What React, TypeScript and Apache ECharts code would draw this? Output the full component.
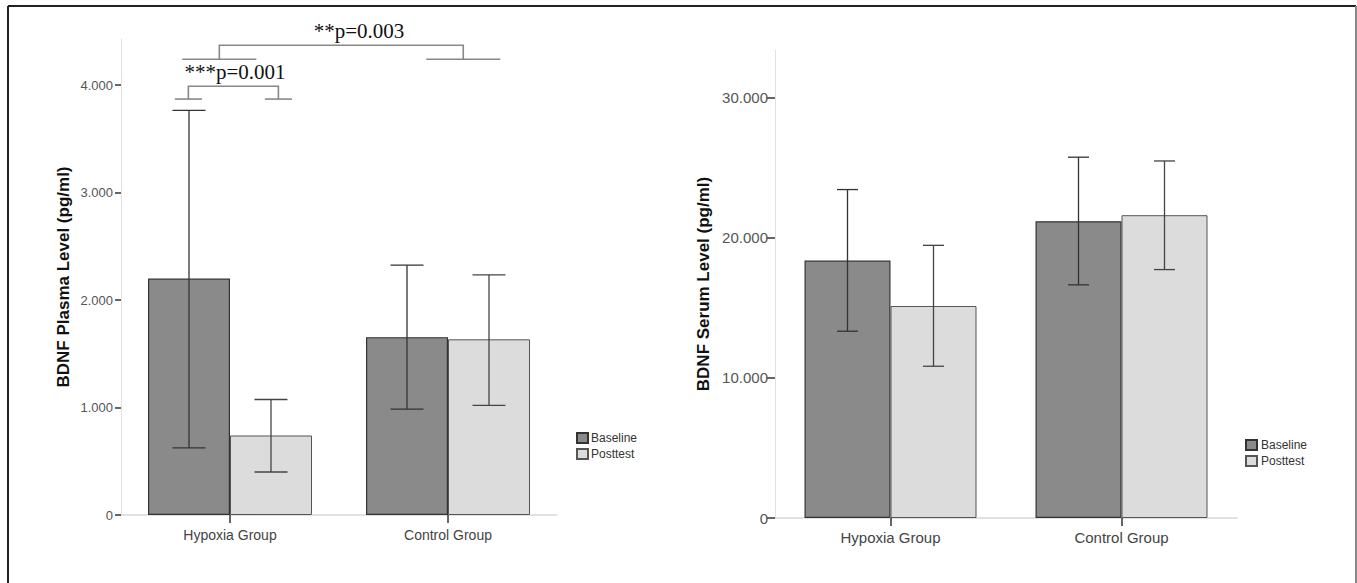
import React, { useEffect, useRef } from "react";
import * as echarts from "echarts";

// ---------- data ----------
const categories = ["Hypoxia Group", "Control Group"];
const seriesNames = ["Baseline", "Posttest"];

// Left panel: BDNF plasma (pg/ml)
const plasmaBaseline = [2200, 1655];
const plasmaPosttest = [740, 1635];
const plasmaBaselineErr = [[625, 3765], [985, 2325]];
const plasmaPosttestErr = [[400, 1075], [1020, 2235]];
const plasmaTicks = [0, 1000, 2000, 3000, 4000];

// Right panel: BDNF serum (pg/ml)
const serumBaseline = [18370, 21180];
const serumPosttest = [15130, 21610];
const serumBaselineErr = [[13330, 23440], [16640, 25750]];
const serumPosttestErr = [[10830, 19460], [17730, 25480]];
const serumTicks = [0, 10000, 20000, 30000];

// Significance brackets (left panel): [x0, x1] in category units, line value, cap value, cap half-width (category units)
const bracketLabels = ["***p=0.001", "**p=0.003"];
const bracketX0 = [-0.191, -0.049];
const bracketX1 = [0.222, 1.07];
const bracketLine = [3990, 4372];
const bracketCap = [3871, 4242];
const bracketCapHalf = [0.062, 0.17];
const bracketTextX = [0.023, 0.592];
const bracketTextY = [4123, 4507];

const fmt = (v: number) => (v === 0 ? "0" : (v / 1000).toFixed(3));

export default function App() {
  const ref = useRef<HTMLDivElement>(null);
  useEffect(() => {
    if (!ref.current) return;
    const chart = echarts.init(ref.current, null, { renderer: "svg" });

    const errSeries = (
      name: string,
      err: number[][],
      axis: number,
      offset: number,
      capW: number,
      color: string
    ) => ({
      type: "custom",
      name: name + " err",
      xAxisIndex: axis,
      yAxisIndex: axis,
      z: 5,
      silent: true,
      data: err.map((e, i) => [i, e[0], e[1]]),
      encode: { x: 0, y: [1, 2] },
      renderItem: (params: any, api: any) => {
        const lo = api.coord([api.value(0), api.value(1)]);
        const hi = api.coord([api.value(0), api.value(2)]);
        const x = lo[0] + offset;
        const st = { stroke: color, lineWidth: 1.3 };
        return {
          type: "group",
          children: [
            { type: "line", shape: { x1: x, y1: lo[1], x2: x, y2: hi[1] }, style: st },
            { type: "line", shape: { x1: x - capW / 2, y1: lo[1], x2: x + capW / 2, y2: lo[1] }, style: st },
            { type: "line", shape: { x1: x - capW / 2, y1: hi[1], x2: x + capW / 2, y2: hi[1] }, style: st },
          ],
        };
      },
    });

    const barStyle = (i: number) =>
      i === 0
        ? { color: "#8a8a8a", borderColor: "#333", borderWidth: 1.2 }
        : { color: "#dcdcdc", borderColor: "#555", borderWidth: 1 };

    const yAxisCommon = (fontSize: number, margin: number, tickLen: number) => ({
      type: "value",
      min: 0,
      splitLine: { show: false },
      axisLine: { show: true, lineStyle: { color: "#e2e2e2", width: 1 } },
      axisTick: { show: true, length: tickLen, lineStyle: { color: "#333", width: 1.5 } },
      axisLabel: {
        color: "#555",
        fontSize,
        fontFamily: "Liberation Sans, Arial, sans-serif",
        margin,
        formatter: fmt,
      },
      nameLocation: "middle",
      nameTextStyle: {
        fontSize: 17,
        fontWeight: "bold",
        color: "#111",
        fontFamily: "Liberation Sans, Arial, sans-serif",
      },
    });

    const xAxisCommon = (fontSize: number, margin: number) => ({
      type: "category",
      data: categories,
      axisLine: { show: true, lineStyle: { color: "#d8d8d8", width: 1.5 } },
      axisTick: { show: true, alignWithLabel: true, length: 8, lineStyle: { color: "#333", width: 1.5 } },
      axisLabel: {
        color: "#444",
        fontSize,
        margin,
        fontFamily: "Liberation Sans, Arial, sans-serif",
      },
    });

    const option: any = {
      animation: false,
      backgroundColor: "#fff",
      grid: [
        { left: 121, width: 436, top: 39, height: 476 },
        { left: 775, width: 462, top: 50, height: 468 },
      ],
      xAxis: [
        { ...xAxisCommon(14, 13), gridIndex: 0 },
        { ...xAxisCommon(15, 12), gridIndex: 1 },
      ],
      yAxis: [
        {
          ...yAxisCommon(13, 8, 6),
          gridIndex: 0,
          max: 4430,
          axisTick: { show: true, length: 6, lineStyle: { color: "#333", width: 1.5 }, customValues: plasmaTicks },
          axisLabel: { ...yAxisCommon(13, 8, 6).axisLabel, customValues: plasmaTicks },
          name: "BDNF Plasma Level (pg/ml)",
          nameGap: 49,
        },
        {
          ...yAxisCommon(15, 7, 8),
          gridIndex: 1,
          max: 33400,
          axisTick: { show: true, length: 8, lineStyle: { color: "#333", width: 1.5 }, customValues: serumTicks },
          axisLabel: { ...yAxisCommon(15, 7, 8).axisLabel, customValues: serumTicks },
          name: "BDNF Serum Level (pg/ml)",
          nameGap: 63,
        },
      ],
      legend: [
        {
          data: seriesNames,
          orient: "vertical",
          left: 571,
          top: 426,
          icon: "rect",
          itemWidth: 11,
          itemHeight: 10,
          itemGap: 2,
          selectedMode: false,
          textStyle: { fontSize: 12, color: "#333", lineHeight: 14, padding: [0, 0, 0, -2], fontFamily: "Liberation Sans, Arial, sans-serif" },
        },
        {
          data: seriesNames,
          orient: "vertical",
          left: 1240,
          top: 433,
          icon: "rect",
          itemWidth: 11,
          itemHeight: 10,
          itemGap: 2,
          selectedMode: false,
          textStyle: { fontSize: 12, color: "#333", lineHeight: 14, padding: [0, 0, 0, -1], fontFamily: "Liberation Sans, Arial, sans-serif" },
        },
      ],
      series: [
        { type: "bar", name: seriesNames[0], xAxisIndex: 0, yAxisIndex: 0, data: plasmaBaseline, barWidth: 82, barGap: "0%", itemStyle: barStyle(0) },
        { type: "bar", name: seriesNames[1], xAxisIndex: 0, yAxisIndex: 0, data: plasmaPosttest, barWidth: 82, barGap: "0%", itemStyle: barStyle(1) },
        { type: "bar", name: seriesNames[0], xAxisIndex: 1, yAxisIndex: 1, data: serumBaseline, barWidth: 86, barGap: "0%", itemStyle: barStyle(0) },
        { type: "bar", name: seriesNames[1], xAxisIndex: 1, yAxisIndex: 1, data: serumPosttest, barWidth: 86, barGap: "0%", itemStyle: barStyle(1) },
        errSeries("Baseline", plasmaBaselineErr, 0, -41, 33, "#333"),
        errSeries("Posttest", plasmaPosttestErr, 0, 41, 33, "#444"),
        errSeries("Baseline", serumBaselineErr, 1, -43, 21, "#333"),
        errSeries("Posttest", serumPosttestErr, 1, 43, 21, "#444"),
        {
          type: "custom",
          name: "brackets",
          xAxisIndex: 0,
          yAxisIndex: 0,
          silent: true,
          z: 6,
          data: bracketLine.map((v) => [0, v]),
          encode: { x: 0, y: 1 },
          renderItem: (params: any, api: any) => {
            const i = params.dataIndex;
            const c0 = api.coord([0, bracketLine[i]]);
            const band = api.size([1, 0])[0];
            const yl = c0[1];
            const yc = api.coord([0, bracketCap[i]])[1];
            const xa = c0[0] + bracketX0[i] * band;
            const xb = c0[0] + bracketX1[i] * band;
            const h = bracketCapHalf[i] * band;
            const st = { stroke: "#888", lineWidth: 1.6 };
            const tx = c0[0] + bracketTextX[i] * band;
            const ty = api.coord([0, bracketTextY[i]])[1];
            return {
              type: "group",
              children: [
                { type: "polyline", shape: { points: [[xa, yc], [xa, yl], [xb, yl], [xb, yc]] }, style: { ...st, fill: null } },
                { type: "line", shape: { x1: xa - h, y1: yc, x2: xa + h, y2: yc }, style: st },
                { type: "line", shape: { x1: xb - h, y1: yc, x2: xb + h, y2: yc }, style: st },
                {
                  type: "text",
                  x: tx,
                  y: ty,
                  style: {
                    text: bracketLabels[i],
                    fill: "#111",
                    fontSize: 21,
                    fontFamily: "Liberation Serif, Times New Roman, serif",
                    align: "center",
                    verticalAlign: "middle",
                  },
                },
              ],
            };
          },
        },
      ],
      graphic: [
        { type: "line", shape: { x1: 8, y1: 6, x2: 1356, y2: 6 }, style: { stroke: "#222", lineWidth: 2 }, silent: true },
        { type: "line", shape: { x1: 8, y1: 6, x2: 8, y2: 583 }, style: { stroke: "#222", lineWidth: 2 }, silent: true },
        { type: "line", shape: { x1: 1356, y1: 6, x2: 1356, y2: 583 }, style: { stroke: "#888", lineWidth: 2 }, silent: true },
      ],
    };

    chart.setOption(option);
    return () => chart.dispose();
  }, []);

  return (
    <div
      ref={ref}
      style={{ position: "fixed", left: 0, top: 0, width: 1357, height: 583, background: "#fff" }}
    />
  );
}
